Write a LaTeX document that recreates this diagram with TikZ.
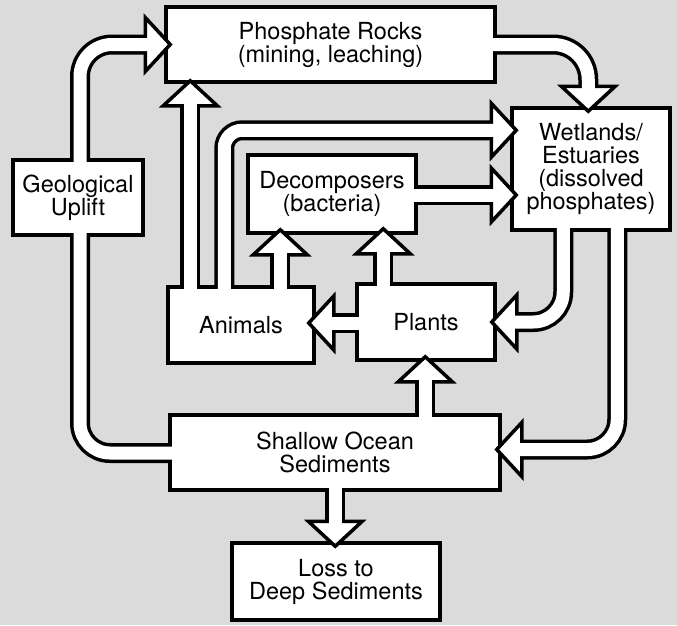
\documentclass[tikz,border=0pt]{standalone}
\usepackage{fontspec}
\setmainfont{TeX Gyre Heros}
\usetikzlibrary{calc}
\pgfdeclarelayer{bg}
\pgfdeclarelayer{shaft}
\pgfdeclarelayer{heads}
\pgfdeclarelayer{top}
\pgfsetlayers{bg,shaft,main,heads,top}
\newcommand\fatshaft[2]{%
  \begin{pgfonlayer}{shaft}\draw[shaftout,rounded corners=#2] #1;\end{pgfonlayer}
  \begin{pgfonlayer}{top}\draw[shaftin,rounded corners=#2] #1;\end{pgfonlayer}}
\newcommand\fathead[2]{%
  \begin{pgfonlayer}{heads}\draw[headst,shift={(#1)},rotate=#2] (0,-27) -- (25,0) -- (0,27) -- cycle;\end{pgfonlayer}}
\begin{document}
\begin{tikzpicture}[x=1pt,y=-1pt,
  box/.style={draw=black, line width=3.5pt, fill=white, rectangle, inner sep=0pt,
    align=center, font=\fontsize{23.5}{23}\selectfont},
  shaftout/.style={draw=black, line width=20pt},
  shaftin/.style={draw=white, line width=13pt, shorten >=-3pt},
  headst/.style={draw=black, fill=white, line width=3.5pt, line join=miter}]
\begin{pgfonlayer}{bg}
  \fill[black!14] (0,0) rectangle (677,625);
\end{pgfonlayer}
\useasboundingbox (0,0) rectangle (677,625);

% boxes
\node[box, minimum width=329, minimum height=75] (phos) at (330.5,44.5) {Phosphate Rocks\\(mining, leaching)};
\node[box, minimum width=130, minimum height=75] (uplift) at (78,197.5) {Geological\\Uplift};
\node[box, minimum width=158, minimum height=122] (wet) at (591,169) {Wetlands/\\Estuaries\\(dissolved\\phosphates)};
\node[box, minimum width=168, minimum height=78] (decomp) at (332,194) {Decomposers\\(bacteria)};
\node[box, minimum width=146, minimum height=76] (animals) at (241,325) {Animals};
\node[box, minimum width=138, minimum height=76] (plants) at (426,322) {Plants};
\node[box, minimum width=330, minimum height=75] (shallow) at (335,452.5) {Shallow Ocean\\Sediments};
\node[box, minimum width=208, minimum height=77] (loss) at (336,581.5) {Loss to\\Deep Sediments};

% head base coordinates
\coordinate (h1) at ($(phos.west)+(-19,0)$);
\coordinate (h3) at ($(phos.south west)+(26,22)$);
\coordinate (h4) at ($(wet.north west)+(-19,24)$);
\coordinate (h5) at ($(decomp.south west)+(34,20)$);
\coordinate (h6) at ($(decomp.south west)+(137,19)$);
\coordinate (h7) at ($(animals.east)+(18,-2)$);
\coordinate (h8) at ($(wet.west)+(-19,26)$);
\coordinate (h9) at ($(wet.north west)+(78,-20)$);
\coordinate (h10) at ($(plants.east)+(20,0)$);
\coordinate (h11) at ($(shallow.east)+(20,-3)$);
\coordinate (h12) at ($(plants.south west)+(70,20)$);
\coordinate (h13) at ($(loss.north west)+(105,-20)$);

% Geological Uplift -> Phosphate Rocks
\fatshaft{($(uplift.north)+(2,10)$) |- (h1)}{32}
\fathead{h1}{0}
% Shallow Ocean Sediments -> Geological Uplift
\fatshaft{($(shallow.west)+(10,0.5)$) -| ($(uplift.south)+(2,-10)$)}{30}
% Animals -> Phosphate Rocks
\fatshaft{($(animals.north west)+(24,10)$) -- (h3)}{0}
\fathead{h3}{90}
% Animals -> Wetlands
\fatshaft{($(animals.north west)+(58,10)$) |- (h4)}{18}
\fathead{h4}{0}
% Animals -> Decomposers
\fatshaft{($(animals.north west)+(114,10)$) -- (h5)}{0}
\fathead{h5}{90}
% Plants -> Decomposers
\fatshaft{($(plants.north west)+(28,10)$) -- (h6)}{0}
\fathead{h6}{90}
% Plants -> Animals
\fatshaft{($(plants.west)+(10,1)$) -- (h7)}{0}
\fathead{h7}{180}
% Decomposers -> Wetlands
\fatshaft{($(decomp.east)+(-10,1)$) -- (h8)}{0}
\fathead{h8}{0}
% Phosphate Rocks -> Wetlands
\fatshaft{($(phos.east)+(-10,0)$) -| (h9)}{35}
\fathead{h9}{270}
% Wetlands -> Plants
\fatshaft{($(wet.south west)+(53,-10)$) |- (h10)}{30}
\fathead{h10}{180}
% Wetlands -> Shallow Ocean Sediments
\fatshaft{($(wet.south west)+(107,-10)$) |- (h11)}{30}
\fathead{h11}{180}
% Shallow Ocean Sediments -> Plants
\fatshaft{($(shallow.north west)+(257,10)$) -- (h12)}{0}
\fathead{h12}{90}
% Shallow Ocean Sediments -> Loss to Deep Sediments
\fatshaft{($(shallow.south west)+(167,-10)$) -- (h13)}{0}
\fathead{h13}{270}
\end{tikzpicture}
\end{document}
